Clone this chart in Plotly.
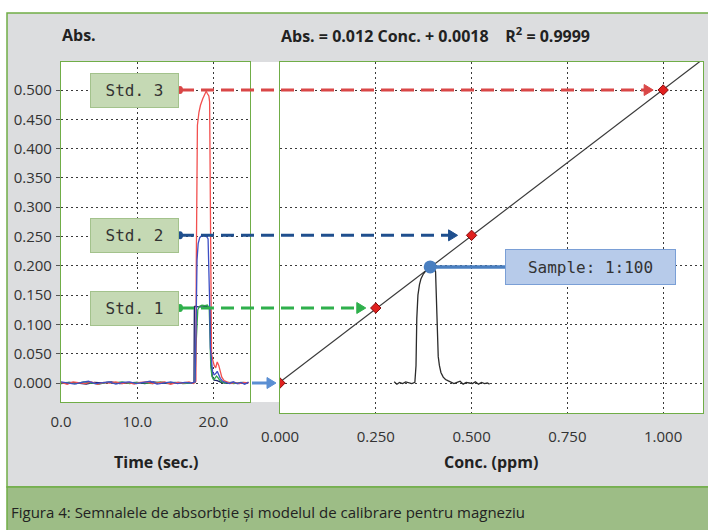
import plotly.graph_objects as go

W, H = 708, 530

# ---- absorbance vs time signals (left panel) ----
red_time = [0.0, 0.8, 1.6, 2.4, 3.2, 4.0, 4.8, 5.6, 6.4, 7.2, 8.0, 8.8, 9.6, 10.4, 11.2, 12.0,
            12.8, 13.6, 14.4, 15.2, 16.0, 16.8, 17.4, 17.7, 17.75, 17.8, 17.9, 18.1, 18.3, 18.6,
            18.9, 19.05, 19.2, 19.4, 19.5, 19.58, 19.65, 19.75, 19.9, 20.1, 20.3, 20.5, 20.7,
            20.9, 21.1, 21.4, 21.8, 22.3, 22.8, 23.4, 24.0, 24.6]
red_abs = [0.001, -0.002, 0.002, 0.000, -0.001, 0.002, -0.002, 0.001, 0.000, 0.002, -0.001, 0.001,
           -0.002, 0.001, 0.002, -0.001, 0.000, 0.002, -0.002, 0.001, 0.000, 0.002, -0.001, 0.003,
           0.200, 0.400, 0.440, 0.462, 0.474, 0.485, 0.493, 0.498, 0.494, 0.490, 0.480, 0.300,
           0.080, 0.050, 0.040, 0.030, 0.026, 0.036, 0.030, 0.018, 0.010, 0.004, 0.002, -0.001,
           0.001, -0.001, 0.001, 0.000]

blue_time = [0.0, 0.9, 1.8, 2.7, 3.6, 4.5, 5.4, 6.3, 7.2, 8.1, 9.0, 9.9, 10.8, 11.7, 12.6, 13.5,
             14.4, 15.3, 16.2, 17.1, 17.6, 17.75, 17.85, 18.0, 18.2, 18.5, 18.8, 19.1, 19.3,
             19.42, 19.5, 19.6, 19.75, 19.9, 20.1, 20.3, 20.5, 20.7, 20.9, 21.2, 21.6, 22.1,
             22.6, 23.1, 23.6, 24.1, 24.6]
blue_abs = [0.002, 0.000, -0.002, 0.001, 0.003, -0.001, 0.000, 0.002, -0.002, 0.001, 0.002,
            -0.001, 0.001, 0.003, -0.002, 0.000, 0.002, -0.001, 0.001, 0.000, 0.002, 0.120,
            0.210, 0.238, 0.248, 0.252, 0.251, 0.250, 0.246, 0.200, 0.140, 0.060, 0.030, 0.018,
            0.014, 0.016, 0.020, 0.014, 0.008, 0.003, 0.001, -0.001, 0.002, -0.001, 0.001,
            -0.002, 0.001]

green_time = [0.0, 1.0, 2.0, 3.0, 4.0, 5.0, 6.0, 7.0, 8.0, 9.0, 10.0, 11.0, 12.0, 13.0, 14.0,
              15.0, 16.0, 17.0, 17.6, 17.7, 17.8, 17.95, 18.2, 18.5, 18.9, 19.2, 19.45, 19.55,
              19.65, 19.8, 20.0, 20.2, 20.4, 20.6, 20.8, 21.1, 21.5, 22.0, 22.6, 23.2, 23.8, 24.4]
green_abs = [0.000, 0.001, -0.001, 0.002, 0.000, -0.002, 0.001, 0.000, 0.002, -0.001, 0.001,
             0.000, -0.001, 0.002, 0.000, 0.001, -0.001, 0.000, 0.001, 0.060, 0.100, 0.125,
             0.131, 0.133, 0.132, 0.133, 0.128, 0.070, 0.030, 0.012, 0.006, 0.008, 0.012, 0.009,
             0.005, 0.002, 0.000, 0.001, -0.001, 0.000, 0.001, 0.000]

navy_time = [0.0, 1.1, 2.2, 3.3, 4.4, 5.5, 6.6, 7.7, 8.8, 9.9, 11.0, 12.1, 13.2, 14.3, 15.4, 16.5,
             17.45, 17.5, 17.6, 18.0, 18.6, 19.2, 19.55, 19.62, 19.7, 19.85, 20.1, 20.5, 21.0,
             21.6, 22.4, 23.2, 24.0, 24.6]
navy_abs = [-0.001, 0.001, 0.000, -0.002, 0.001, 0.000, 0.002, -0.001, 0.000, 0.001, -0.001,
            0.002, 0.000, -0.001, 0.001, 0.000, 0.001, 0.130, 0.131, 0.130, 0.130, 0.131, 0.128,
            0.060, 0.030, 0.012, 0.005, 0.004, 0.001, 0.000, 0.001, -0.001, 0.000, 0.001]

# ---- calibration (right panel) ----
std_conc = [0.0, 0.25, 0.5, 1.0]
std_abs = [0.0, 0.128, 0.252, 0.500]
std_labels = ["Std. 1", "Std. 2", "Std. 3"]

sample_conc = [0.298, 0.305, 0.312, 0.320, 0.328, 0.336, 0.344, 0.352, 0.355, 0.357, 0.360,
               0.364, 0.368, 0.374, 0.380, 0.386, 0.392, 0.398, 0.403, 0.406, 0.408, 0.410,
               0.413, 0.416, 0.420, 0.426, 0.432, 0.438, 0.446, 0.454, 0.462, 0.470, 0.478,
               0.486, 0.494, 0.502, 0.510, 0.518, 0.526, 0.534, 0.541, 0.547]
sample_abs = [0.002, -0.002, 0.001, -0.001, 0.002, 0.000, -0.001, 0.001, 0.030, 0.110, 0.150,
              0.168, 0.178, 0.186, 0.192, 0.196, 0.198, 0.197, 0.195, 0.190, 0.150, 0.090,
              0.045, 0.030, 0.018, 0.010, 0.006, 0.004, 0.002, -0.001, 0.001, 0.003, -0.002,
              0.001, 0.000, -0.001, 0.002, -0.002, 0.001, -0.001, 0.000, -0.002]
sample_label = "Sample: 1:100"

equation_text = "Abs. = 0.012 Conc. + 0.0018\u00a0\u00a0\u00a0\u00a0R<sup>2</sup> = 0.9999"
caption_text = "Figura 4: Semnalele de absorbție și modelul de calibrare pentru magneziu"

time_ticks = [0, 10, 20]
time_ticktext = ["0.0", "10.0", "20.0"]
abs_ticks_left = [0.0, 0.05, 0.10, 0.15, 0.20, 0.25, 0.30, 0.35, 0.40, 0.45, 0.50]
abs_ticks_right = [0.0, 0.1, 0.2, 0.3, 0.4, 0.5]
conc_ticks = [0.0, 0.25, 0.5, 0.75, 1.0]

# ---- layout geometry (pixels) ----
LEFT_X = (61, 250)
RIGHT_X = (280, 703)
TOP_Y = 62
LEFT_BOTTOM = 402
RIGHT_BOTTOM = 413
TIME_RANGE = [0, 24.8]
CONC_RANGE = [0, 1.104]
YL_RANGE = [-0.0324, 0.5478]
YR_RANGE = [-0.0512, 0.5478]

GREEN = "#70ad47"
GRID = "#3a3a3a"
FONT = "Open Sans"
MONO = "DejaVu Sans Mono"


def fx(px):
    return px / W


def fy(py):
    return 1 - py / H


def conc_px(c):
    """Pixel x of a concentration value on the calibration axis."""
    return RIGHT_X[0] + (c - CONC_RANGE[0]) / (CONC_RANGE[1] - CONC_RANGE[0]) * (RIGHT_X[1] - RIGHT_X[0])


def arrow_head(xpx, yval, color, size=9, half=5.5):
    """Filled triangular head whose tip sits at pixel x, data y on the right axis."""
    return dict(type="path", xref="paper", yref="y2", xsizemode="pixel", ysizemode="pixel",
                xanchor=fx(xpx), yanchor=yval,
                path=f"M {-size},{-half} L 0,0 L {-size},{half} Z",
                fillcolor=color, line=dict(color=color, width=1), layer="above")


fig = go.Figure()

line_w = 1.3
fig.add_trace(go.Scatter(x=navy_time, y=navy_abs, mode="lines", line=dict(color="#1c2068", width=line_w),
                         xaxis="x", yaxis="y"))
fig.add_trace(go.Scatter(x=green_time, y=green_abs, mode="lines", line=dict(color="#31a54c", width=line_w),
                         xaxis="x", yaxis="y"))
fig.add_trace(go.Scatter(x=red_time, y=red_abs, mode="lines", line=dict(color="#f2504f", width=line_w),
                         xaxis="x", yaxis="y"))
fig.add_trace(go.Scatter(x=blue_time, y=blue_abs, mode="lines", line=dict(color="#3d4fc4", width=line_w),
                         xaxis="x", yaxis="y"))

# calibration line fitted through the standards
n = len(std_conc)
mx = sum(std_conc) / n
my = sum(std_abs) / n
slope = sum((c - mx) * (a - my) for c, a in zip(std_conc, std_abs)) / sum((c - mx) ** 2 for c in std_conc)
intercept = my - slope * mx
fit_x = [CONC_RANGE[0], CONC_RANGE[1]]
fit_y = [intercept + slope * v for v in fit_x]
fig.add_trace(go.Scatter(x=fit_x, y=fit_y, mode="lines", line=dict(color="#3a3a3a", width=1.2),
                         xaxis="x2", yaxis="y2"))

fig.add_trace(go.Scatter(x=sample_conc, y=sample_abs, mode="lines", line=dict(color="#2b2b2b", width=1.3),
                         xaxis="x2", yaxis="y2"))

fig.add_trace(go.Scatter(x=std_conc, y=std_abs, mode="markers",
                         marker=dict(symbol="diamond", size=8, color="#e0201e",
                                     line=dict(color="#8a0a0a", width=1)),
                         xaxis="x2", yaxis="y2"))

peak_i = max(range(len(sample_abs)), key=lambda i: sample_abs[i])
peak_c, peak_a = sample_conc[peak_i], sample_abs[peak_i]
fig.add_trace(go.Scatter(x=[peak_c], y=[peak_a], mode="markers",
                         marker=dict(size=13, color="#4a7fc0"),
                         xaxis="x2", yaxis="y2", cliponaxis=False))

shapes = []
# grey panel and caption band
shapes.append(dict(type="rect", xref="paper", yref="paper", x0=fx(7), x1=fx(712), y0=fy(487), y1=fy(13),
                   fillcolor="#dcdddf", line=dict(color=GREEN, width=1.5), layer="below"))
shapes.append(dict(type="rect", xref="paper", yref="paper", x0=fx(7), x1=fx(712), y0=fy(535), y1=fy(487),
                   fillcolor="#9dbd86", line=dict(color=GREEN, width=1.5), layer="below"))
# white plotting areas
shapes.append(dict(type="rect", xref="paper", yref="paper", x0=fx(LEFT_X[0]), x1=fx(RIGHT_X[0]),
                   y0=fy(LEFT_BOTTOM), y1=fy(TOP_Y), fillcolor="white", line=dict(width=0), layer="below"))
shapes.append(dict(type="rect", xref="paper", yref="paper", x0=fx(RIGHT_X[0]), x1=fx(RIGHT_X[1]),
                   y0=fy(RIGHT_BOTTOM), y1=fy(TOP_Y), fillcolor="white", line=dict(width=0), layer="below"))

annotations = []

# dashed arrows from the standard labels to the calibration points
arrow_colors = ["#2fb04c", "#1f4f8e", "#d94747"]
standoffs = [10, 14, 10]
box_right = 179
for lab, c, a, col, so in zip(std_labels, std_conc[1:], std_abs[1:], arrow_colors, standoffs):
    tip = conc_px(c) - so
    shapes.append(dict(type="line", xref="paper", yref="y2", x0=fx(box_right + 2), x1=fx(tip - 6), y0=a, y1=a,
                       line=dict(color=col, width=3, dash="13px,7px"), layer="above"))
    shapes.append(dict(type="circle", xref="paper", yref="y2", xsizemode="pixel", ysizemode="pixel",
                       xanchor=fx(box_right + 1), yanchor=a, x0=-3, x1=3, y0=-4, y1=4,
                       fillcolor=col, line=dict(width=0), layer="above"))
    shapes.append(arrow_head(tip, a, col))
    annotations.append(dict(xref="paper", yref="y", x=fx(134.5), y=a, text=lab, showarrow=False,
                            xanchor="center", yanchor="middle", width=85, height=31,
                            bgcolor="#c5d9b4", bordercolor="#a3c28c", borderwidth=1,
                            font=dict(family=MONO, size=16, color="#333333")))

# baseline arrow into the calibration origin
base_tip = conc_px(std_conc[0]) - 4
shapes.append(dict(type="line", xref="paper", yref="y2", x0=fx(LEFT_X[1] + 2), x1=fx(base_tip - 6),
                   y0=std_abs[0], y1=std_abs[0], line=dict(color="#5b8fd3", width=3), layer="above"))
shapes.append(arrow_head(base_tip, std_abs[0], "#5b8fd3"))

# sample connector and label
box_left, box_w = 506, 169
shapes.append(dict(type="line", xref="paper", yref="y2", x0=fx(conc_px(peak_c)), x1=fx(box_left),
                   y0=peak_a, y1=peak_a, line=dict(color="#4a7fc0", width=3.5), layer="above"))
annotations.append(dict(xref="paper", yref="y2", x=fx(box_left + box_w / 2), y=peak_a, text=sample_label,
                        showarrow=False, xanchor="center", yanchor="middle", width=box_w - 2, height=32,
                        bgcolor="#b7cbea", bordercolor="#7a9fd6", borderwidth=1,
                        font=dict(family=MONO, size=16, color="#333333")))

# header, axis titles and caption
head_font = dict(family=FONT, size=16, color="#222222")
annotations.append(dict(xref="paper", yref="paper", x=fx(60), y=fy(35), text="<b>Abs.</b>", showarrow=False,
                        xanchor="left", yanchor="middle", font=head_font))
annotations.append(dict(xref="paper", yref="paper", x=fx(279), y=fy(35), text="<b>" + equation_text + "</b>",
                        showarrow=False, xanchor="left", yanchor="middle", font=head_font))
annotations.append(dict(xref="paper", yref="paper", x=fx(156), y=fy(462), text="<b>Time (sec.)</b>",
                        showarrow=False, xanchor="center", yanchor="middle", font=head_font))
annotations.append(dict(xref="paper", yref="paper", x=fx(491), y=fy(462), text="<b>Conc. (ppm)</b>",
                        showarrow=False, xanchor="center", yanchor="middle", font=head_font))
annotations.append(dict(xref="paper", yref="paper", x=fx(9), y=fy(512), text=caption_text,
                        showarrow=False, xanchor="left", yanchor="middle",
                        font=dict(family=FONT, size=15, color="#222222")))

tick_font = dict(family=FONT, size=15, color="#333333")
grid_common = dict(showgrid=True, gridcolor=GRID, gridwidth=1.4, griddash="2px,3px", zeroline=False,
                   showline=True, linecolor=GREEN, linewidth=1.2, mirror=True, tickfont=tick_font,
                   automargin=False)

fig.update_layout(
    width=W, height=H, autosize=False, margin=dict(l=0, r=0, t=0, b=0, pad=0),
    paper_bgcolor="white", plot_bgcolor="rgba(0,0,0,0)", showlegend=False,
    xaxis=dict(domain=[fx(LEFT_X[0]), fx(LEFT_X[1])], range=TIME_RANGE, anchor="y",
               tickvals=time_ticks, ticktext=time_ticktext, ticks="", ticklabelstandoff=6, **grid_common),
    yaxis=dict(domain=[fy(LEFT_BOTTOM), fy(TOP_Y)], range=YL_RANGE, anchor="x",
               tickvals=abs_ticks_left, tickformat=".3f", ticks="outside", ticklen=4,
               tickcolor="#555555", ticklabelstandoff=1, **grid_common),
    xaxis2=dict(domain=[fx(RIGHT_X[0]), fx(RIGHT_X[1])], range=CONC_RANGE, anchor="y2",
                tickvals=conc_ticks, tickformat=".3f", ticks="", ticklabelstandoff=10, **grid_common),
    yaxis2=dict(domain=[fy(RIGHT_BOTTOM), fy(TOP_Y)], range=YR_RANGE, anchor="x2",
                tickvals=abs_ticks_right, showticklabels=False, ticks="", **grid_common),
    shapes=shapes, annotations=annotations,
)

fig.write_html("out.html", config={"displayModeBar": False})
